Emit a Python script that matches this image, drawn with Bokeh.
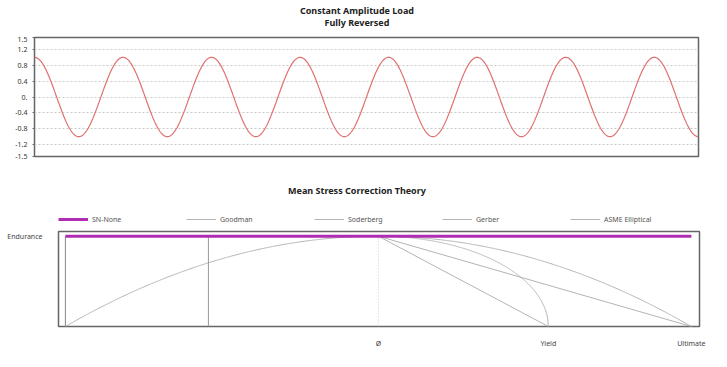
import numpy as np
from bokeh.plotting import figure
from bokeh.models import FixedTicker, Range1d, Legend, LegendItem, Div
from bokeh.embed import file_html
from bokeh.resources import INLINE

# ---- data ----
load_amplitude = 1.0
load_cycles = 7.5
load_yticks = [-1.5, -1.2, -0.8, -0.4, 0.0, 0.4, 0.8, 1.2, 1.5]
load_ylabels = ["-1.5", "-1.2", "-0.8", "-0.4", "0.", "0.4", "0.8", "1.2", "1.5"]

endurance = 1.0
yield_s = 0.543
ultimate = 1.0
ms_xticks = [0.0, yield_s, ultimate]
ms_xlabels = ["Ø", "Yield", "Ultimate"]
legend_names = ["SN-None", "Goodman", "Soderberg", "Gerber", "ASME Elliptical"]

FONT = "Noto Sans"
GREY = "#b4b4b4"
MAG = "#b02cb0"
W = 727

title_style = {"font-family": FONT, "font-size": "9px", "font-weight": "bold",
               "color": "#222222", "text-align": "center", "line-height": "12px"}

# ---- top title ----
div1 = Div(text="Constant Amplitude Load<br>Fully Reversed", width=714, height=36, margin=0,
           styles=dict(title_style, **{"padding-top": "5px"}))

# ---- top chart ----
t = np.linspace(0, load_cycles, 1200)
load = load_amplitude * np.cos(2 * np.pi * t)

p1 = figure(frame_width=664, frame_height=119, output_backend="svg", toolbar_location=None,
            x_range=Range1d(0, load_cycles), y_range=Range1d(-1.5, 1.5),
            min_border_left=34, min_border_right=W - 698, min_border_top=1, min_border_bottom=12)
p1.line(t, load, line_color="#e07070", line_width=1.2)
p1.xaxis.visible = False
p1.xgrid.visible = False
p1.yaxis.ticker = FixedTicker(ticks=load_yticks)
p1.yaxis.major_label_overrides = {v: s for v, s in zip(load_yticks, load_ylabels)}
p1.yaxis.major_label_text_font = FONT
p1.yaxis.major_label_text_font_size = "7px"
p1.yaxis.major_label_text_color = "#333333"
p1.yaxis.axis_line_color = None
p1.yaxis.minor_tick_line_color = None
p1.yaxis.major_tick_out = 2
p1.yaxis.major_tick_in = 0
p1.yaxis.major_tick_line_color = "#666666"
p1.yaxis.major_label_standoff = 5
p1.ygrid.ticker = FixedTicker(ticks=load_yticks[1:-1])
p1.ygrid.grid_line_color = "#c8c8c8"
p1.ygrid.grid_line_dash = "2 2"
p1.outline_line_color = "#666666"
p1.outline_line_width = 1.5

# ---- bottom title ----
div2 = Div(text="Mean Stress Correction Theory", width=714, height=35, margin=0,
           styles=dict(title_style, **{"padding-top": "17px"}))

# ---- legend strip ----
pl = figure(frame_width=W, frame_height=26, output_backend="svg", toolbar_location=None,
            x_range=Range1d(0, 1), y_range=Range1d(0, 1),
            min_border_left=0, min_border_right=0, min_border_top=0, min_border_bottom=0)
pl.axis.visible = False
pl.grid.visible = False
pl.outline_line_color = None
styles = [(MAG, 3), (GREY, 1), (GREY, 1), (GREY, 1), (GREY, 1)]
dummies = [pl.line([5, 6], [5, 6], line_color=c, line_width=w) for c, w in styles]
items = [LegendItem(label=n, renderers=[r]) for n, r in zip(legend_names, dummies)]
legend = Legend(items=items, orientation="horizontal", location=(58, 5),
                glyph_width=30, glyph_height=10, label_standoff=4, label_width=94,
                spacing=0, padding=4, margin=0,
                label_text_font=FONT, label_text_font_size="7px", label_text_color="#555555",
                background_fill_alpha=0, border_line_color=None)
pl.add_layout(legend, "center")

# ---- bottom chart ----
p2 = figure(frame_width=641, frame_height=95, output_backend="svg", toolbar_location=None,
            x_range=Range1d(-1.022 * ultimate, 1.026 * ultimate),
            y_range=Range1d(0, 1.052 * endurance),
            min_border_left=58, min_border_right=W - 699, min_border_top=2, min_border_bottom=32)

xs_pos = np.linspace(0, ultimate, 300)
xs_neg = np.linspace(-ultimate, 0, 300)
xs_ell = np.linspace(0, yield_s, 400)

p2.line([0, 0], [0, endurance], line_color="#cccccc", line_dash="1 2", line_width=1)
p2.line([0, ultimate], [endurance, 0], line_color=GREY, line_width=1)
p2.line([0, yield_s], [endurance, 0], line_color=GREY, line_width=1)
p2.line(xs_pos, endurance * (1 - (xs_pos / ultimate) ** 2), line_color=GREY, line_width=1)
p2.line(xs_neg, endurance * (1 - (xs_neg / ultimate) ** 2), line_color=GREY, line_width=1)
p2.line(xs_ell, endurance * np.sqrt(np.clip(1 - (xs_ell / yield_s) ** 2, 0, 1)),
        line_color=GREY, line_width=1)
p2.line([-ultimate, -ultimate], [0, endurance], line_color="#888888", line_width=1)
p2.line([-yield_s, -yield_s], [0, endurance], line_color="#999999", line_width=1)
p2.line([-ultimate, ultimate], [endurance, endurance], line_color=MAG, line_width=3)

p2.xgrid.visible = False
p2.ygrid.visible = False
p2.xaxis.ticker = FixedTicker(ticks=ms_xticks)
p2.xaxis.major_label_overrides = {v: s for v, s in zip(ms_xticks, ms_xlabels)}
p2.yaxis.ticker = FixedTicker(ticks=[endurance])
p2.yaxis.major_label_overrides = {endurance: "Endurance"}
for ax in (p2.xaxis, p2.yaxis):
    ax.axis_line_color = None
    ax.major_tick_line_color = None
    ax.minor_tick_line_color = None
    ax.major_label_text_font = FONT
    ax.major_label_text_font_size = "7px"
    ax.major_label_text_color = "#444444"
p2.xaxis.major_label_standoff = 6
p2.yaxis.major_label_standoff = 10
p2.outline_line_color = "#666666"
p2.outline_line_width = 1.5

open("out.html", "w").write(file_html([div1, p1, div2, pl, p2], INLINE))
